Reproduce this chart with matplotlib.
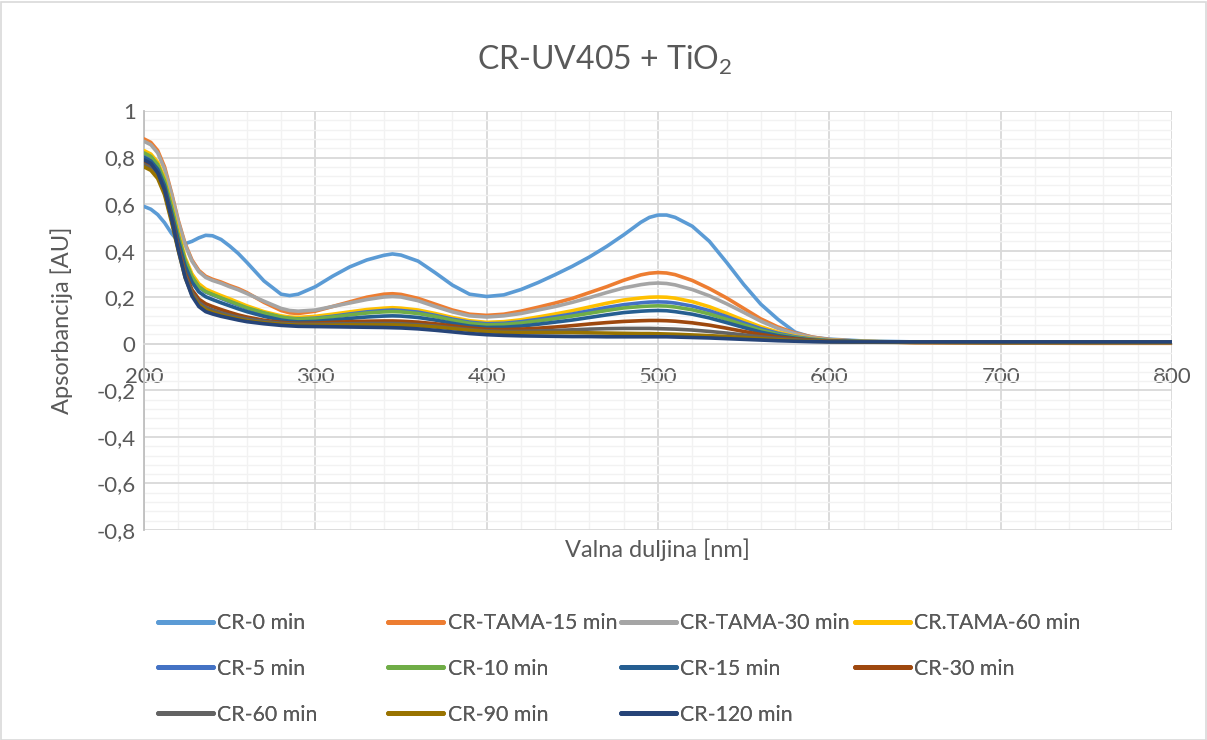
import matplotlib
matplotlib.use("Agg")
import matplotlib.pyplot as plt
from matplotlib.ticker import MultipleLocator, FuncFormatter
from matplotlib.lines import Line2D
from matplotlib.patches import Rectangle

plt.rcParams['font.family'] = ['Lato', 'DejaVu Sans']
plt.rcParams['mathtext.fontset'] = 'custom'
plt.rcParams['mathtext.rm'] = 'Lato'
plt.rcParams['mathtext.it'] = 'Lato:italic'

# ---------------- data ----------------
wavelength = [200, 204, 208, 212, 216, 220, 224, 228, 232, 236, 240, 245, 250, 255, 260,
              270, 280, 285, 290, 300, 310, 320, 330, 340, 345, 350, 360, 370, 380, 390,
              400, 410, 420, 430, 440, 450, 460, 470, 480, 490, 495, 500, 505, 510, 520,
              530, 540, 550, 560, 570, 580, 590, 600, 620, 650, 700, 750, 800]

cr_0 = [.59, .578, .555, .52, .475, .44, .43, .44, .455, .466, .464, .448, .42, .388, .35,
        .27, .213, .207, .213, .245, .29, .33, .36, .38, .386, .381, .355, .305, .252, .213,
        .203, .21, .233, .263, .297, .333, .373, .418, .468, .522, .543, .553, .553, .543, .505,
        .44, .35, .255, .17, .105, .05, .028, .02, .012, .008, .006, .006, .006]
cr_tama_15 = [.88, .865, .83, .76, .65, .53, .43, .36, .315, .29, .277, .265, .25, .237, .22,
              .178, .143, .133, .13, .14, .16, .18, .20, .213, .215, .212, .195, .17, .145, .127,
              .122, .127, .14, .157, .175, .195, .22, .245, .273, .296, .303, .306, .304, .297, .272,
              .237, .197, .152, .107, .072, .046, .029, .018, .01, .005, .003, .002, .002]
cr_tama_30 = [.87, .855, .82, .75, .645, .525, .425, .355, .31, .285, .272, .26, .245, .232, .216,
              .183, .152, .143, .14, .145, .16, .175, .19, .201, .203, .201, .185, .16, .137, .12,
              .115, .12, .13, .145, .16, .178, .198, .22, .24, .254, .259, .261, .259, .253, .233,
              .206, .172, .135, .097, .066, .043, .027, .017, .01, .006, .005, .005, .005]
cr_tama_60 = [.83, .815, .78, .71, .60, .48, .37, .30, .258, .235, .222, .207, .193, .178, .163,
              .138, .12, .115, .113, .118, .127, .137, .147, .153, .155, .153, .145, .13, .113, .099,
              .092, .095, .103, .115, .128, .142, .158, .174, .188, .197, .20, .201, .20, .196, .181,
              .159, .131, .101, .073, .05, .033, .022, .015, .01, .007, .006, .006, .006]
cr_5 = [.81, .795, .76, .69, .58, .46, .355, .285, .243, .222, .21, .195, .18, .166, .152,
        .13, .113, .109, .107, .11, .118, .128, .137, .143, .145, .143, .136, .122, .106, .093,
        .086, .088, .095, .105, .116, .128, .142, .156, .168, .176, .179, .18, .179, .175, .162,
        .142, .117, .09, .065, .045, .03, .02, .014, .009, .007, .006, .006, .006]
cr_10 = [.82, .805, .77, .70, .59, .465, .358, .288, .245, .224, .212, .197, .183, .169, .155,
         .133, .115, .109, .106, .108, .115, .124, .132, .137, .138, .137, .13, .117, .101, .088,
         .081, .083, .089, .098, .108, .119, .131, .143, .154, .16, .162, .163, .162, .158, .146,
         .128, .105, .081, .058, .04, .027, .018, .013, .009, .007, .006, .006, .006]
cr_15 = [.80, .785, .75, .68, .565, .445, .335, .265, .223, .202, .19, .176, .163, .15, .138,
         .118, .102, .097, .094, .096, .102, .109, .115, .119, .12, .119, .113, .102, .088, .076,
         .07, .071, .076, .084, .093, .102, .113, .124, .134, .14, .142, .143, .142, .138, .127,
         .111, .091, .07, .05, .035, .024, .016, .012, .009, .007, .007, .007, .007]
cr_30 = [.78, .765, .73, .66, .545, .42, .305, .232, .192, .172, .16, .147, .135, .124, .115,
         .101, .092, .089, .088, .089, .092, .095, .097, .098, .098, .097, .093, .086, .077, .068,
         .062, .061, .063, .067, .072, .078, .085, .091, .096, .099, .10, .10, .099, .097, .09,
         .08, .067, .053, .04, .029, .021, .015, .011, .008, .006, .005, .005, .005]
cr_60 = [.77, .755, .72, .65, .535, .41, .295, .22, .178, .157, .145, .133, .123, .114, .107,
         .096, .088, .086, .084, .084, .085, .086, .087, .087, .087, .086, .082, .076, .068, .061,
         .055, .053, .053, .055, .057, .06, .063, .065, .066, .066, .066, .065, .064, .063, .059,
         .053, .046, .038, .03, .023, .017, .013, .01, .008, .007, .006, .006, .006]
cr_90 = [.76, .745, .71, .64, .525, .40, .285, .21, .168, .147, .135, .124, .115, .107, .10,
         .09, .084, .082, .08, .08, .08, .081, .081, .081, .081, .08, .077, .072, .065, .058,
         .052, .049, .048, .048, .048, .048, .047, .046, .045, .044, .044, .043, .042, .041, .038,
         .035, .031, .027, .022, .018, .014, .011, .009, .007, .006, .006, .006, .006]
cr_120 = [.79, .775, .735, .66, .54, .405, .285, .205, .16, .138, .128, .118, .11, .102, .095,
          .086, .079, .077, .075, .074, .073, .072, .071, .07, .069, .068, .064, .058, .051, .044,
          .039, .036, .034, .033, .032, .031, .031, .03, .03, .03, .03, .03, .03, .029, .027,
          .025, .022, .019, .016, .013, .011, .009, .008, .008, .008, .008, .008, .008]

series_labels = ["CR-0 min", "CR-TAMA-15 min", "CR-TAMA-30 min", "CR.TAMA-60 min",
                 "CR-5 min", "CR-10 min", "CR-15 min", "CR-30 min",
                 "CR-60 min", "CR-90 min", "CR-120 min"]
series_values = [cr_0, cr_tama_15, cr_tama_30, cr_tama_60, cr_5, cr_10, cr_15, cr_30,
                 cr_60, cr_90, cr_120]
series_colors = ["#5B9BD5", "#ED7D31", "#A5A5A5", "#FFC000", "#4472C4", "#70AD47",
                 "#255E91", "#9E480E", "#636363", "#997300", "#264478"]

x_ticks = [200, 300, 400, 500, 600, 700, 800]
y_ticks = [-0.8, -0.6, -0.4, -0.2, 0, 0.2, 0.4, 0.6, 0.8, 1.0]

# ---------------- figure ----------------
W, H = 1207, 740
fig = plt.figure(figsize=(W / 100, H / 100), dpi=100)
fig.patches.append(Rectangle((0.5 / W, 0.5 / H), 1 - 2 / W, 1 - 2 / H, transform=fig.transFigure,
                             fill=False, edgecolor="#D9D9D9", lw=1.2))

ax = fig.add_axes([144 / W, 1 - 530 / H, (1172 - 144) / W, (530 - 111) / H])

for vals, lab, col in zip(series_values, series_labels, series_colors):
    ax.plot(wavelength, vals, color=col, lw=2.6, label=lab,
            solid_capstyle='round', solid_joinstyle='round', zorder=3)

ax.set_xlim(200, 800)
ax.set_ylim(-0.8, 1.0)
ax.xaxis.set_major_locator(MultipleLocator(100))
ax.xaxis.set_minor_locator(MultipleLocator(20))
ax.yaxis.set_major_locator(MultipleLocator(0.2))
ax.yaxis.set_minor_locator(MultipleLocator(0.04))
ax.grid(which='major', color="#D9D9D9", lw=1.3, zorder=0)
ax.grid(which='minor', color="#F2F2F2", lw=1.0, zorder=0)
ax.set_axisbelow(True)

for s in ['top', 'right']:
    ax.spines[s].set_visible(False)
ax.spines['left'].set_color("#BFBFBF")
ax.spines['left'].set_linewidth(1.3)
ax.spines['bottom'].set_position(('data', 0))
ax.spines['bottom'].set_color("#D9D9D9")
ax.spines['bottom'].set_linewidth(1.3)

ax.set_xticks(x_ticks)
ax.set_yticks(y_ticks)
ax.xaxis.set_major_formatter(FuncFormatter(lambda v, p: f"{v:.0f}"))
ax.yaxis.set_major_formatter(FuncFormatter(
    lambda v, p: "0" if abs(v) < 1e-9 else ("1" if abs(v - 1) < 1e-9 else f"{v:.1f}".replace(".", ","))))
ax.tick_params(which='both', length=0)
ax.tick_params(axis='x', pad=17, labelsize=16, labelcolor="#595959")
ax.tick_params(axis='y', pad=6, labelsize=16, labelcolor="#595959")

fig.text(605 / W, 1 - 60 / H, r"CR-UV405 + TiO$_\mathrm{2}$", ha='center', va='center',
         fontsize=23, color="#595959")
fig.text(657 / W, 1 - 550 / H, "Valna duljina [nm]", ha='center', va='center',
         fontsize=17, color="#595959")
fig.text(62 / W, 1 - 320 / H, "Apsorbancija [AU]", ha='center', va='center',
         rotation=90, fontsize=17, color="#595959")

# legend: four columns, row-wise order as in reference
handles = [Line2D([], [], color=c, lw=3.5, solid_capstyle='round') for c in series_colors]
col_x = [158, 388, 621, 855]
order = [[0, 4, 8], [1, 5, 9], [2, 6, 10], [3, 7]]
for cx, idxs in zip(col_x, order):
    leg = fig.legend([handles[i] for i in idxs], [series_labels[i] for i in idxs],
                     loc='upper left', bbox_to_anchor=(cx / W, 1 - 613 / H),
                     frameon=False, fontsize=15.3, borderpad=0, borderaxespad=0,
                     handlelength=2.6, handletextpad=0.2, labelspacing=1.22,
                     labelcolor="#595959")
    fig.add_artist(leg)

fig.savefig("out.png", dpi=100)
